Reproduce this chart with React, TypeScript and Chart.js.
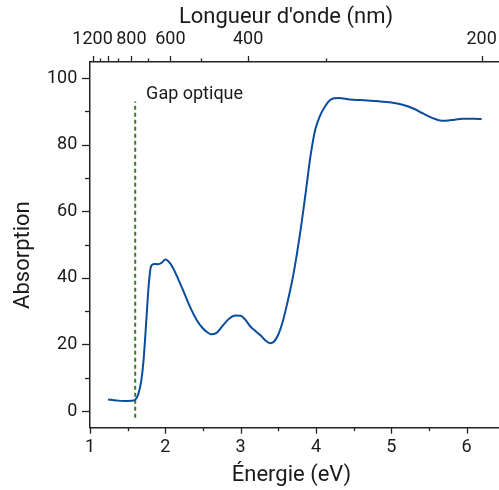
import React, { useEffect, useRef } from 'react';
import { Chart, registerables } from 'chart.js';

Chart.register(...registerables);

// ---- data ----
const energy = [
  1.24, 1.35, 1.45, 1.55, 1.6, 1.64, 1.68, 1.71, 1.75, 1.78, 1.81, 1.85, 1.9, 1.95, 2.0,
  2.04, 2.09, 2.17, 2.25, 2.33, 2.41, 2.5, 2.55, 2.6, 2.68, 2.76, 2.85, 2.93, 3.0, 3.06, 3.13,
  3.2, 3.27, 3.33, 3.39, 3.44, 3.5, 3.56, 3.62, 3.7, 3.78, 3.86, 3.93, 3.99, 4.05, 4.12,
  4.2, 4.3, 4.45, 4.6, 4.8, 5.0, 5.15, 5.3, 5.42, 5.55, 5.67, 5.8, 5.95, 6.1, 6.2,
];
const absorption = [
  3.5, 3.2, 3.0, 3.1, 3.4, 5.0, 9.0, 15.0, 28.0, 38.0, 43.5, 44.2, 44.1, 44.5, 45.5,
  45.0, 43.5, 39.7, 35.5, 31.2, 27.6, 24.8, 23.8, 23.1, 23.5, 25.6, 27.8, 28.7, 28.6, 27.5, 25.4,
  24.0, 22.6, 21.2, 20.4, 20.8, 23.0, 27.0, 32.5, 41.0, 52.0, 65.0, 77.0, 84.5, 88.5, 91.5,
  93.6, 94.0, 93.6, 93.4, 93.1, 92.7, 92.0, 90.8, 89.4, 88.0, 87.2, 87.4, 87.8, 87.8, 87.7,
];
const gapEnergy = 1.6;
const gapLineRange = [-2, 93];
const gapLabel = 'Gap optique';
const gapLabelAt = [1.745, 95.2];

const energyTicks = [1, 1.5, 2, 2.5, 3, 3.5, 4, 4.5, 5, 5.5, 6];
const energyLabeled = [1, 2, 3, 4, 5, 6];
const absorptionTicks = [0, 10, 20, 30, 40, 50, 60, 70, 80, 90, 100];
const absorptionLabeled = [0, 20, 40, 60, 80, 100];
const wavelengthTicks = [1200, 1100, 1000, 900, 800, 700, 600, 500, 400, 300, 200];
const wavelengthMajor = [1200, 1000, 800, 600, 400, 200];
const wavelengthLabeled = [1200, 800, 600, 400, 200];
const HC = 1240; // eV·nm

const xTitle = 'Énergie (eV)';
const x2Title = "Longueur d'onde (nm)";
const yTitle = 'Absorption';

const AXIS = '#222222';
const TEXT = '#1a1a1a';

const tickPlugin = {
  id: 'customTicks',
  afterDraw(chart: any) {
    const { ctx, chartArea } = chart;
    const x = chart.scales.x;
    const x2 = chart.scales.x2;
    const y = chart.scales.y;
    ctx.save();
    ctx.strokeStyle = AXIS;
    ctx.lineWidth = 1.3;
    const seg = (a: number, b: number, c: number, d: number) => {
      ctx.beginPath();
      ctx.moveTo(a, b);
      ctx.lineTo(c, d);
      ctx.stroke();
    };
    energyTicks.forEach((v) => {
      const p = Math.round(x.getPixelForValue(v)) + 0.5;
      const len = energyLabeled.includes(v) ? 6 : 3.5;
      seg(p, x.top, p, x.top + len);
    });
    absorptionTicks.forEach((v) => {
      const p = Math.round(y.getPixelForValue(v)) + 0.5;
      const len = absorptionLabeled.includes(v) ? 8 : 5;
      seg(y.right, p, y.right - len, p);
    });
    wavelengthTicks.forEach((w) => {
      const p = Math.round(x2.getPixelForValue(HC / w)) + 0.5;
      const len = wavelengthMajor.includes(w) ? 5.5 : 3;
      seg(p, x2.bottom, p, x2.bottom - len);
    });

    ctx.fillStyle = TEXT;
    ctx.textBaseline = 'middle';
    ctx.textAlign = 'left';
    ctx.font = '18px Roboto';
    ctx.fillText(gapLabel, x.getPixelForValue(gapLabelAt[0]), y.getPixelForValue(gapLabelAt[1]));

    // axis titles
    ctx.textAlign = 'center';
    ctx.font = '22px Roboto';
    const midX = (chartArea.left + chartArea.right) / 2;
    const midY = (chartArea.top + chartArea.bottom) / 2;
    ctx.fillText(xTitle, midX - 3, x.bottom - 15);
    ctx.fillText(x2Title, midX - 8.5, x2.top + 17.2);
    ctx.translate(y.left + 23.3, midY + 10.5);
    ctx.rotate(-Math.PI / 2);
    ctx.fillText(yTitle, 0, 0);
    ctx.restore();
  },
};

export default function App() {
  const ref = useRef<HTMLCanvasElement>(null);
  useEffect(() => {
    if (!ref.current) return;
    const chart = new Chart(ref.current, {
      type: 'line',
      data: {
        datasets: [
          {
            data: energy.map((e, i) => ({ x: e, y: absorption[i] })),
            borderColor: '#0a4d9e',
            borderWidth: 2,
            pointRadius: 0,
            cubicInterpolationMode: 'monotone',
            fill: false,
          },
          {
            data: gapLineRange.map((v) => ({ x: gapEnergy, y: v })),
            borderColor: '#3d7a25',
            borderWidth: 2,
            borderDash: [4, 3],
            pointRadius: 0,
            fill: false,
          },
        ],
      },
      options: {
        animation: false,
        responsive: false,
        devicePixelRatio: 1,
        layout: { padding: 0 },
        plugins: { legend: { display: false }, tooltip: { enabled: false } },
        scales: {
          x: {
            type: 'linear',
            position: 'bottom',
            min: 1,
            max: 6.43,
            afterBuildTicks: (s: any) => {
              s.ticks = energyTicks.map((v) => ({ value: v }));
            },
            afterFit: (s: any) => {
              s.height = 62.3;
              s.paddingLeft = 0;
              s.paddingRight = 0;
            },
            ticks: {
              autoSkip: false,
              maxRotation: 0,
              padding: 3.4,
              color: TEXT,
              font: { family: 'Roboto', size: 18 },
              callback: (v: any) => (energyLabeled.includes(v) ? String(v) : ''),
            },
            grid: { display: true, drawOnChartArea: false, tickLength: 6, tickColor: 'rgba(0,0,0,0)' },
            border: { display: true, color: AXIS, width: 1.5 },
            title: { display: false },
          },
          x2: {
            type: 'linear',
            position: 'top',
            min: 1,
            max: 6.43,
            afterBuildTicks: (s: any) => {
              s.ticks = wavelengthTicks.map((w) => ({ value: HC / w }));
            },
            afterFit: (s: any) => {
              s.height = 61.5;
              s.paddingLeft = 0;
              s.paddingRight = 0;
            },
            ticks: {
              autoSkip: false,
              maxRotation: 0,
              padding: 6.2,
              color: TEXT,
              font: { family: 'Roboto', size: 18 },
              callback: (v: any) => {
                const w = Math.round(HC / v);
                return wavelengthLabeled.includes(w) ? String(w) : '';
              },
            },
            grid: { display: true, drawOnChartArea: false, tickLength: 5, tickColor: 'rgba(0,0,0,0)' },
            border: { display: true, color: AXIS, width: 1.5 },
            title: { display: false },
          },
          y: {
            type: 'linear',
            position: 'left',
            min: -5,
            max: 105,
            afterBuildTicks: (s: any) => {
              s.ticks = absorptionTicks.map((v) => ({ value: v }));
            },
            afterFit: (s: any) => {
              s.width = 90;
              s.paddingTop = 0;
              s.paddingBottom = 0;
            },
            ticks: {
              autoSkip: false,
              padding: 4.7,
              color: TEXT,
              font: { family: 'Roboto', size: 18 },
              callback: (v: any) => (absorptionLabeled.includes(v) ? String(v) : ''),
            },
            grid: { display: true, drawOnChartArea: false, tickLength: 8, tickColor: 'rgba(0,0,0,0)' },
            border: { display: true, color: AXIS, width: 1.5 },
            title: { display: false },
          },
        },
      } as any,
      plugins: [tickPlugin],
    });
    return () => chart.destroy();
  }, []);
  return (
    <div style={{ position: 'absolute', left: 0, top: 0, width: 499, height: 490 }}>
      <canvas ref={ref} width={499} height={490} style={{ display: 'block' }} />
    </div>
  );
}
